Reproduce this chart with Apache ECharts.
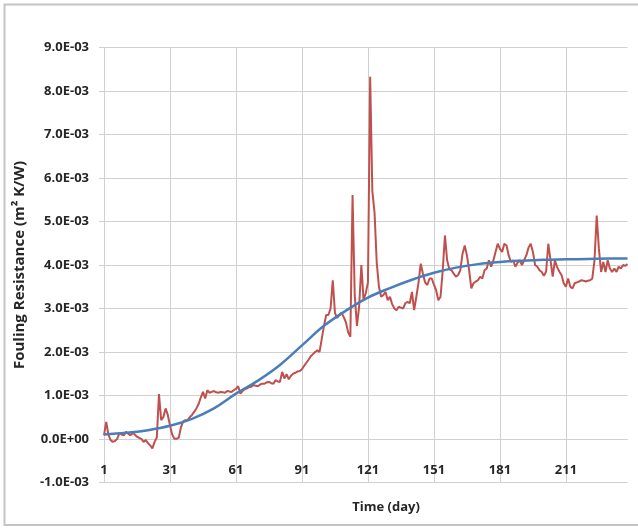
<!DOCTYPE html>
<html>
<head>
<meta charset="utf-8">
<script src="https://cdn.jsdelivr.net/npm/echarts@6/dist/echarts.min.js"></script>
<style>html,body{margin:0;padding:0;background:#fff;}#chart{width:638px;height:530px;}</style>
</head>
<body>
<div id="chart"></div>
<script>
// Fouling resistance values, in units of 1E-03 m² K/W
const days = [];
for (let d = 1; d <= 239; d++) days.push(String(d));

const measuredE3 = [
  0.08, 0.39, 0.10, -0.03, -0.07, -0.05, 0.00, 0.13, 0.10, 0.08,
  0.16, 0.12, 0.08, 0.13, 0.10, 0.05, 0.02, 0.00, -0.07, -0.03,
  -0.10, -0.15, -0.22, -0.07, 0.03, 1.03, 0.43, 0.50, 0.70, 0.55,
  0.31, 0.10, 0.00, 0.00, 0.03, 0.27, 0.40, 0.43, 0.43, 0.50,
  0.55, 0.62, 0.70, 0.80, 0.95, 1.08, 0.93, 1.12, 1.06, 1.08,
  1.10, 1.07, 1.06, 1.08, 1.07, 1.06, 1.10, 1.09, 1.08, 1.12,
  1.15, 1.21, 1.04, 1.10, 1.14, 1.16, 1.19, 1.20, 1.24, 1.22,
  1.21, 1.25, 1.27, 1.27, 1.30, 1.31, 1.28, 1.27, 1.35, 1.32,
  1.31, 1.54, 1.39, 1.49, 1.37, 1.45, 1.50, 1.52, 1.55, 1.56,
  1.60, 1.68, 1.75, 1.82, 1.90, 1.95, 2.00, 2.04, 2.00, 2.30,
  2.60, 2.85, 2.85, 3.00, 3.65, 2.90, 2.78, 2.85, 2.90, 2.80,
  2.68, 2.45, 2.35, 5.61, 3.30, 2.60, 3.05, 4.00, 3.20, 3.35,
  3.60, 8.33, 5.70, 5.20, 4.05, 3.50, 3.27, 3.31, 3.38, 3.19,
  3.27, 3.10, 3.00, 2.96, 3.04, 3.02, 3.00, 3.12, 3.15, 3.12,
  3.38, 2.96, 3.27, 3.60, 4.03, 3.80, 3.60, 3.54, 3.69, 3.69,
  3.55, 3.42, 3.19, 3.27, 3.88, 4.68, 4.11, 3.90, 3.88, 3.80,
  3.73, 3.77, 3.88, 4.26, 4.45, 4.22, 3.88, 3.46, 3.58, 3.62,
  3.65, 3.73, 3.69, 3.88, 3.92, 4.11, 3.96, 4.10, 4.30, 4.49,
  4.37, 4.30, 4.49, 4.45, 4.22, 4.07, 4.11, 3.96, 4.05, 4.11,
  4.00, 4.11, 4.22, 4.40, 4.49, 4.30, 4.00, 3.96, 3.88, 3.84,
  3.75, 3.85, 4.49, 4.11, 3.73, 4.11, 3.95, 3.85, 3.77, 3.58,
  3.50, 3.69, 3.50, 3.46, 3.58, 3.60, 3.62, 3.65, 3.64, 3.62,
  3.64, 3.65, 3.69, 4.11, 5.14, 4.37, 3.84, 4.07, 3.84, 4.11,
  3.92, 3.84, 3.92, 3.84, 3.96, 3.92, 4.00, 3.98, 4.02
];

const fitDays = [1, 11, 21, 31, 41, 51, 61, 71, 81, 91, 101, 111, 121, 131, 141, 151, 161, 171, 181, 191, 201, 211, 221, 231, 239];
const fitE3 = [0.10, 0.14, 0.20, 0.30, 0.46, 0.70, 1.04, 1.34, 1.70, 2.15, 2.60, 2.95, 3.25, 3.47, 3.66, 3.82, 3.94, 4.02, 4.07, 4.10, 4.12, 4.13, 4.14, 4.15, 4.15];

const yMin = -1, yMax = 9, yStep = 1;
const xLabelEvery = 30;

const chart = echarts.init(document.getElementById('chart'), null, {renderer: 'canvas'});
const font = '"Open Sans", "DejaVu Sans", sans-serif';
const gridColor = '#d0d0d0';

chart.setOption({
  animation: false,
  backgroundColor: '#ffffff',
  grid: {left: 104, right: 10.5, top: 47.7, bottom: 47.7, containLabel: false},
  xAxis: {
    type: 'category',
    data: days,
    boundaryGap: false,
    axisLine: {show: true, lineStyle: {color: gridColor, width: 1}},
    axisTick: {show: false},
    axisLabel: {
      interval: xLabelEvery - 1, inside: true, margin: 6,
      fontFamily: font, fontWeight: 'bold', fontSize: 13, color: '#262626'
    },
    splitLine: {show: true, interval: xLabelEvery - 1, lineStyle: {color: gridColor, width: 1}}
  },
  yAxis: {
    type: 'value',
    min: yMin, max: yMax, interval: yStep,
    name: 'Fouling Resistance (m² K/W)',
    nameLocation: 'middle',
    nameGap: 77,
    nameTextStyle: {fontFamily: font, fontWeight: 'bold', fontSize: 15, color: '#262626'},
    axisLine: {show: true, lineStyle: {color: gridColor, width: 1}},
    axisTick: {show: true, length: 5, lineStyle: {color: gridColor}},
    axisLabel: {
      margin: 15,
      fontFamily: font, fontWeight: 'bold', fontSize: 13, color: '#262626',
      formatter: v => (v === 0 ? '0.0E+00' : v.toFixed(1) + 'E-03')
    },
    splitLine: {show: true, lineStyle: {color: gridColor, width: 1}}
  },
  graphic: [
    {type: 'rect', shape: {x: 4.5, y: 4.5, width: 640, height: 520.5},
     style: {fill: 'none', stroke: '#c4c4c4', lineWidth: 2}, silent: true},
    {type: 'text', x: 386, y: 507,
     style: {text: 'Time (day)', textAlign: 'center', textVerticalAlign: 'middle',
             font: 'bold 13px ' + font, fill: '#262626'}}
  ],
  series: [
    {
      type: 'line', name: 'Measured', data: measuredE3,
      showSymbol: false, symbol: 'none',
      lineStyle: {color: '#C0504D', width: 2},
      z: 2
    },
    {
      type: 'line', name: 'Fit', data: fitDays.map((d, i) => [d - 1, fitE3[i]]),
      showSymbol: false, symbol: 'none', smooth: 0.4,
      lineStyle: {color: '#4A7EBB', width: 2.5},
      z: 3
    }
  ]
});
</script>
</body>
</html>
